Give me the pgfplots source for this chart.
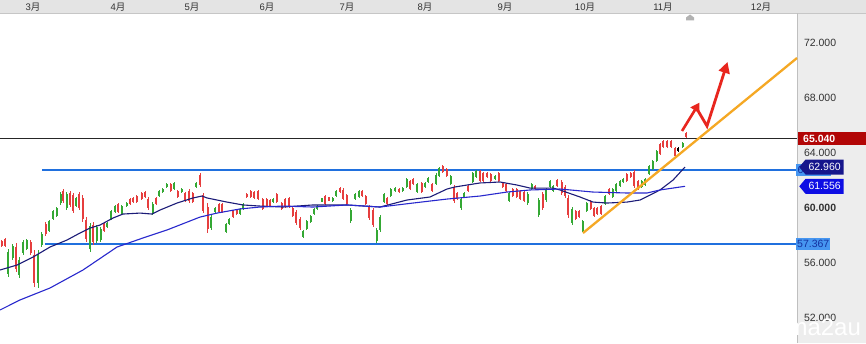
\documentclass[border=0pt]{standalone}
\usepackage{pgfplots}
\pgfplotsset{compat=1.18}
\usepackage{pgfplotstable}
\usepackage{fontspec}
\setmainfont{Liberation Sans}
\newfontfamily\cjk{Noto Sans CJK SC}
\usetikzlibrary{arrows.meta,shapes.symbols}

\definecolor{cred}{RGB}{230,62,62}
\definecolor{cgreen}{RGB}{52,168,52}
\definecolor{maone}{RGB}{28,28,120}
\definecolor{matwo}{RGB}{40,40,205}
\definecolor{hblue}{RGB}{32,112,222}
\definecolor{orangeline}{RGB}{245,168,36}
\definecolor{arrowred}{RGB}{232,38,30}
\definecolor{darkred}{RGB}{178,6,6}
\definecolor{navybox}{RGB}{22,22,140}
\definecolor{bluebox}{RGB}{14,14,228}
\definecolor{lblue}{RGB}{70,150,240}
\definecolor{dblue}{RGB}{20,50,160}
\definecolor{panelgray}{RGB}{237,237,237}
\definecolor{bargray}{RGB}{228,228,228}
\definecolor{labgray}{RGB}{50,50,50}

% red (down) candles: x, high, low
\pgfplotstableread{
x hi lo
1.7 57.65 57.14
5 57.80 57.14
16 57.43 55.32
30.7 57.65 56.56
34 56.92 54.23
45.7 58.96 57.94
63.3 61.36 60.34
70 61.21 60.05
73.3 61.07 59.61
79 61.14 59.83
82.7 60.92 58.96
86 59.32 57.51
93.3 58.96 57.29
104 58.89 58.23
118.3 60.34 59.61
130 60.71 60.20
133.3 60.78 60.34
136.7 60.92 60.34
141.7 61.14 60.56
145 61.21 60.71
148.3 60.78 59.83
156 60.78 60.20
170.7 61.80 61.14
177.7 61.29 60.71
185 61.14 60.41
189 61.36 60.34
192.7 61.14 60.34
200 62.52 61.51
203.3 61.07 59.61
207.7 60.34 58.16
219 60.34 59.61
222.3 60.34 59.61
233.3 59.83 59.25
236.7 59.91 59.47
246.7 61.07 60.71
250.7 61.29 60.71
254 61.21 60.63
258.3 61.29 60.56
262.7 60.71 59.83
266.7 60.71 60.05
270 60.63 60.05
276.7 61.07 60.34
281.7 60.41 59.83
285 60.71 59.98
289 60.78 59.98
292.7 60.05 59.32
296 59.83 58.74
300 59.32 58.38
325 60.92 60.20
329 60.78 60.49
340 61.51 61.07
343.3 61.43 60.56
346.7 61.00 60.20
362.3 61.29 60.78
365.7 60.92 60.20
369.3 60.20 59.11
373.3 59.98 58.60
387.3 60.78 60.20
399 61.43 61.07
410 62.01 61.29
413.3 62.16 61.65
421.7 61.87 61.07
432.3 61.80 61.14
442.7 63.10 62.52
446.7 62.89 62.23
454 61.65 60.34
457.3 61.14 60.56
468.3 61.65 61.14
480 62.74 61.87
483.3 62.60 61.87
487.3 62.60 62.16
490.7 62.52 61.87
498.7 62.60 61.87
502.7 61.87 61.43
506 61.80 61.14
512.7 61.43 60.78
516.7 61.43 60.71
520 61.29 60.56
524 61.21 60.41
535 61.65 61.29
542.7 61.14 59.83
557.3 62.09 61.51
561.7 62.01 60.92
565 61.65 60.71
568.3 60.92 59.25
575.7 59.83 59.11
579 59.83 59.25
590.7 60.56 59.83
594 60.05 59.32
597.3 60.05 59.47
601 60.20 59.47
609 61.43 60.92
626.7 62.52 61.87
630.7 62.60 62.16
634 62.74 61.43
638.3 62.01 61.29
660 64.71 63.83
663.3 64.92 64.34
667.3 64.92 64.34
671 64.92 64.34
675 64.41 63.69
686 65.51 65.07
}\redtab

% green (up) candles: x, high, low
\pgfplotstableread{
x hi lo
8.3 57.00 54.96
12.7 57.36 56.20
19.3 56.41 54.89
23.3 57.65 56.56
26.7 57.72 56.92
38.3 56.92 54.16
41.7 58.23 57.14
49.3 59.11 58.23
53.3 59.83 59.11
56.7 60.05 59.32
60.7 61.14 60.20
66.7 61.14 59.83
76 60.78 60.05
90 58.89 56.78
96.7 58.74 57.43
100.7 58.60 57.51
107.3 58.96 58.52
111 59.83 59.11
115 60.20 59.61
121.7 60.20 59.47
126.7 60.41 60.05
152.7 60.41 59.47
159.3 61.29 60.78
162.7 61.43 61.07
166.7 61.80 61.43
174 61.87 61.29
181.7 61.43 61.07
196 61.87 61.43
211 59.47 58.38
215 60.05 59.61
226 58.89 58.16
229.3 59.25 58.74
240 59.98 59.47
243.3 60.34 59.83
273.3 60.71 60.34
303.3 58.38 57.80
306.7 59.11 58.38
310.7 59.47 58.89
314 59.98 59.47
317.3 60.20 59.83
321.7 60.71 60.41
332.7 60.78 60.41
336 61.29 60.78
350.7 59.98 58.89
355 61.07 60.56
359 61.29 60.71
376.7 58.52 57.43
380 59.47 58.23
384 61.07 60.34
390.7 61.43 60.78
395 61.51 61.14
402.7 61.51 61.14
406.7 62.16 61.43
417.3 61.80 61.07
425 61.87 61.43
428.3 62.23 61.80
436 62.52 61.65
439.3 62.96 62.23
450.7 62.38 61.65
461 60.78 59.83
464.3 61.14 60.71
472.7 62.60 61.80
476 62.74 62.16
495 62.38 62.01
509.3 61.14 60.41
527.7 61.14 60.20
531.7 61.80 61.29
538.7 60.71 59.32
546 61.43 60.41
550 62.01 61.43
553.3 61.65 61.14
572.3 60.05 58.74
582.7 59.11 58.23
586.7 60.41 59.69
605 60.92 60.20
612.7 61.43 60.71
616 61.80 61.14
620 62.01 61.51
623.3 62.16 61.80
641.7 62.01 61.43
645 62.16 61.58
649 63.10 62.38
652.7 63.47 62.74
656.7 64.20 63.32
682.7 64.78 64.34
}\greentab

\pgfplotstableread{
x hi lo
678.3 64.41 64.05
}\blacktab

\pgfplotsset{
  wick/.style={draw=none, mark=none, forget plot,
    error bars/.cd, y dir=both, y explicit, error mark=none,
    error bar style={draw=#1, line width=0.8pt}},
  body/.style={draw=none, mark=none, forget plot,
    error bars/.cd, y dir=both, y explicit, error mark=none,
    error bar style={draw=#1, line width=2.2pt}},
}

\begin{document}
\begin{tikzpicture}
\useasboundingbox (0,0) rectangle (866pt,343pt);
% backgrounds
\fill[white] (0,0) rectangle (866pt,343pt);
\fill[panelgray] (797pt,0) rectangle (866pt,343pt);
\fill[bargray] (0,329.5pt) rectangle (866pt,343pt);
\draw[gray!45, line width=0.6pt] (0,329.5pt) -- (866pt,329.5pt);
\draw[gray!50, line width=0.7pt] (797pt,0) -- (797pt,329.5pt);
% small marker below the month bar
\fill[gray!60] (686pt,322.5pt) -- (694pt,322.5pt) -- (694pt,325.5pt) -- (690pt,328.5pt) -- (686pt,325.5pt) -- cycle;

\begin{axis}[
  at={(0pt,0pt)}, anchor=south west, scale only axis,
  width=797pt, height=329pt,
  xmin=0, xmax=797, ymin=50.16, ymax=74.09,
  clip=false,
  axis line style={draw=none}, major tick length=0pt,
  xtick={33,118,192,267,347,425,505,585,663,761},
  xticklabels={3{\cjk 月},4{\cjk 月},5{\cjk 月},6{\cjk 月},7{\cjk 月},8{\cjk 月},9{\cjk 月},10{\cjk 月},11{\cjk 月},12{\cjk 月}},
  xticklabel pos=upper,
  xticklabel style={anchor=center, yshift=7.3pt, font=\fontsize{9.5}{10}\selectfont, text=labgray},
  ytick={52,56,60,64,68,72},
  yticklabels={52.000,56.000,{\bfseries 60.000},64.000,68.000,72.000},
  yticklabel pos=right,
  yticklabel style={anchor=west, xshift=3.5pt, font=\fontsize{10.5}{12}\selectfont, text=labgray},
]
% support / resistance lines
\addplot[hblue, line width=2.5pt, forget plot] coordinates {(42,62.74) (797,62.74)};
\addplot[hblue, line width=2.5pt, forget plot] coordinates {(45,57.367) (797,57.367)};
\addplot[black!85, line width=0.7pt, forget plot] coordinates {(0,65.04) (797,65.04)};

% candles
\addplot[wick=cred] table[x=x, y expr={(\thisrow{hi}+\thisrow{lo})/2}, y error expr={(\thisrow{hi}-\thisrow{lo})/2}] {\redtab};
\addplot[body=cred] table[x=x, y expr={(\thisrow{hi}+\thisrow{lo})/2}, y error expr={0.38*(\thisrow{hi}-\thisrow{lo})}] {\redtab};
\addplot[wick=cgreen] table[x=x, y expr={(\thisrow{hi}+\thisrow{lo})/2}, y error expr={(\thisrow{hi}-\thisrow{lo})/2}] {\greentab};
\addplot[body=cgreen] table[x=x, y expr={(\thisrow{hi}+\thisrow{lo})/2}, y error expr={0.38*(\thisrow{hi}-\thisrow{lo})}] {\greentab};
\addplot[wick=black] table[x=x, y expr={(\thisrow{hi}+\thisrow{lo})/2}, y error expr={(\thisrow{hi}-\thisrow{lo})/2}] {\blacktab};
\addplot[body=black] table[x=x, y expr={(\thisrow{hi}+\thisrow{lo})/2}, y error expr={0.38*(\thisrow{hi}-\thisrow{lo})}] {\blacktab};

% moving averages
\addplot[maone, line width=1.1pt, forget plot] coordinates {
(0,55.47) (17,55.83) (33,56.41) (50,57.14) (67,57.65) (80,58.16) (90,58.52) (100,58.74)
(113,59.25) (123,59.54) (140,59.61) (152,59.54) (160,59.83) (177,60.34) (193,60.71)
(202,60.85) (207,60.71) (227,60.41) (243,60.20) (260,60.12) (283,60.05) (313,60.20)
(347,60.20) (380,60.05) (407,60.56) (430,60.78) (447,61.36) (455,61.51) (480,61.80)
(500,61.87) (517,61.65) (530,61.43) (553,61.43) (560,61.29) (580,60.78) (593,60.41)
(607,60.34) (627,60.41) (640,60.56) (650,60.92) (660,61.29) (673,62.01) (685,62.96)};
\addplot[matwo, line width=1.1pt, forget plot] coordinates {
(0,52.56) (20,53.29) (50,54.16) (83,55.47) (117,57.14) (143,57.80) (167,58.38)
(200,59.32) (217,59.61) (240,59.91) (260,60.05) (283,60.12) (313,60.05) (347,60.20)
(380,60.05) (413,60.34) (447,60.63) (480,60.85) (507,61.14) (530,61.29) (560,61.36)
(593,61.14) (627,61.07) (647,61.07) (660,61.29) (673,61.43) (685,61.556)};

% trend line
\addplot[orangeline, line width=2.3pt, forget plot] coordinates {(583,58.16) (797,70.89)};

% hand-drawn arrow
\draw[arrowred, line width=2.6pt, -{Triangle[length=9pt,width=10pt]}] (axis cs:682,65.58) -- (axis cs:699.5,67.65);
\draw[arrowred, line width=2.8pt, line join=miter, -{Triangle[length=11pt,width=11pt]}] (axis cs:696,67.3) -- (axis cs:707,65.94) -- (axis cs:727.5,70.6);

% price labels
\node[fill=darkred, text=white, font=\bfseries\fontsize{10.5}{12}\selectfont, anchor=west,
      minimum height=12.5pt, text width=58pt, inner xsep=5pt, inner ysep=0pt] at (axis cs:798,65.04) {65.040};
\node[fill=lblue, text=dblue, font=\fontsize{10.5}{12}\selectfont, anchor=west,
      minimum height=12.5pt, inner xsep=1.5pt, inner ysep=0pt] at (axis cs:796,62.74) {62.740};
\node[signal, signal to=west, signal pointer angle=100, fill=navybox, text=white, font=\fontsize{10.5}{12}\selectfont,
      anchor=west, minimum height=15pt, inner xsep=3pt, inner ysep=0pt] at (axis cs:799,62.96) {62.960};
\node[signal, signal to=west, signal pointer angle=100, fill=bluebox, text=white, font=\fontsize{10.5}{12}\selectfont,
      anchor=west, minimum height=15pt, inner xsep=3pt, inner ysep=0pt] at (axis cs:799,61.556) {61.556};
\node[fill=lblue, text=dblue, font=\fontsize{10.5}{12}\selectfont, anchor=west,
      minimum height=11.5pt, inner xsep=1pt, inner ysep=0pt] at (axis cs:796,57.367) {57.367};
\end{axis}

% watermark
\node[anchor=base west, text=white, font=\fontsize{24}{24}\selectfont] at (784pt,8pt) {ma2au};
\end{tikzpicture}
\end{document}
